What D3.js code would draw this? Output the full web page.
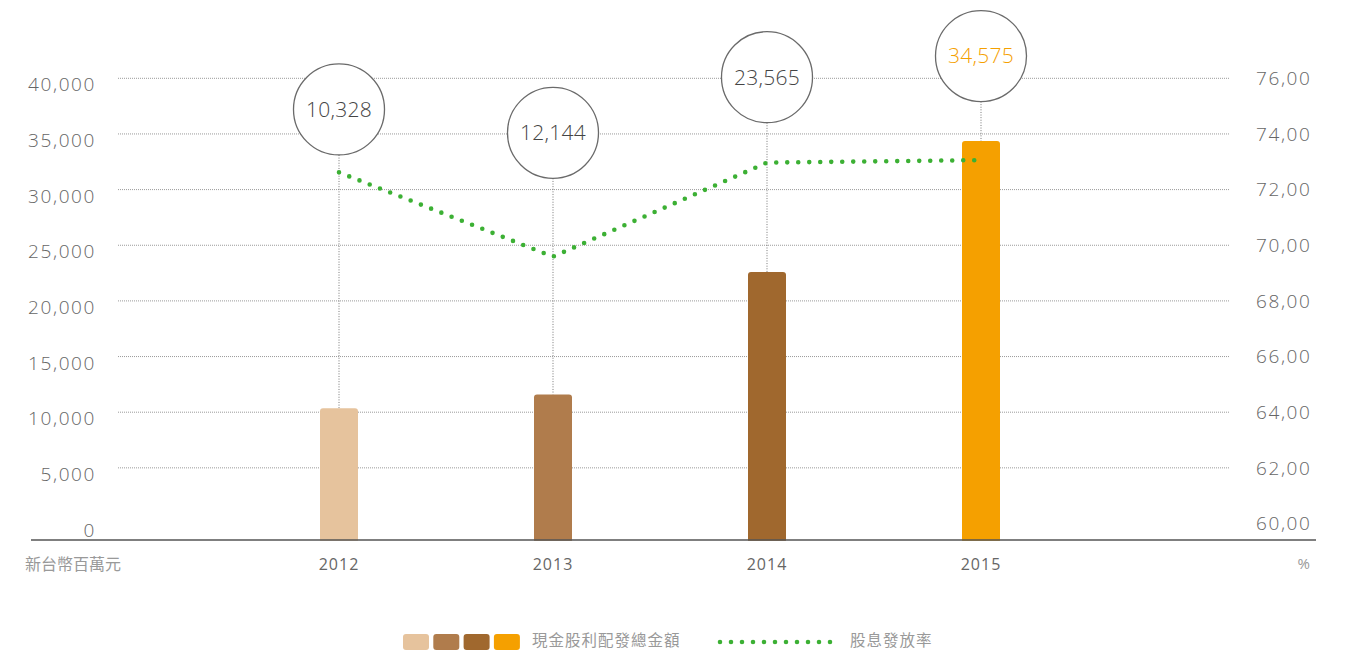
<!DOCTYPE html>
<html>
<head>
<meta charset="utf-8">
<title>現金股利配發總金額</title>
<script src="https://d3js.org/d3.v7.min.js"></script>
<style>
  body { margin: 0; background: #fff; }
  text { font-family: "Open Sans", sans-serif; }
  .cjk { font-family: "Noto Sans CJK TC", sans-serif; }
</style>
</head>
<body>

<div id="chart"></div>

<script>
  // data
  const years = ["2012", "2013", "2014", "2015"];
  const cashDividend = [10350, 11600, 22600, 34370];     // bar heights as drawn
  const dividendLabels = ["10,328", "12,144", "23,565", "34,575"];
  const payoutRatio = [72.62, 69.59, 72.97, 73.06];
  const leftTicks = [0, 5000, 10000, 15000, 20000, 25000, 30000, 35000, 40000];
  const rightTicks = [60, 62, 64, 66, 68, 70, 72, 74, 76];

  // layout
  const barColors = ["#e6c39d", "#b07c4c", "#a0682e", "#f5a000"];
  const bubbleLevel = [37200, 35100, 40100, 42000];   // bubble centres in left-axis units
  const W = 1348, H = 651;
  const baseY = 540, bubbleR = 45.5, barW = 38;

  const svg = d3.select("#chart").append("svg")
    .attr("width", W)
    .attr("height", H);

  // scales
  const x = d3.scalePoint().domain(years).range([339, 981]);
  const yL = d3.scaleLinear().domain([0, 40000]).range([523.5, 78.3]);
  const yR = d3.scaleLinear().domain([60, 76]).range([523.5, 78.3]);

  // gridlines
  svg.append("g")
    .selectAll("line")
    .data(leftTicks.filter(d => d > 0))
    .enter().append("line")
    .attr("x1", 118).attr("x2", 1229)
    .attr("y1", d => yL(d)).attr("y2", d => yL(d))
    .attr("stroke", "#9a9a9a")
    .attr("stroke-width", 1)
    .attr("stroke-dasharray", "1,1");

  // left axis labels
  svg.append("g")
    .selectAll("text")
    .data(leftTicks)
    .enter().append("text")
    .attr("x", 96)
    .attr("y", d => yL(d) + 6.5)
    .attr("dy", "0.35em")
    .attr("text-anchor", "end")
    .style("font-size", "19px")
    .style("font-weight", 300)
    .style("letter-spacing", "1.6px")
    .attr("fill", "#666")
    .text(d => d3.format(",")(d));

  // right axis labels
  svg.append("g")
    .selectAll("text")
    .data(rightTicks)
    .enter().append("text")
    .attr("x", 1256)
    .attr("y", d => yR(d))
    .attr("dy", "0.35em")
    .style("font-size", "19px")
    .style("font-weight", 300)
    .style("letter-spacing", "1.6px")
    .attr("fill", "#666")
    .text(d => d.toFixed(2).replace(".", ","));

  // dotted drop lines from bubble to bar
  svg.append("g")
    .selectAll("line")
    .data(years)
    .enter().append("line")
    .attr("x1", d => x(d)).attr("x2", d => x(d))
    .attr("y1", (d, i) => yL(bubbleLevel[i]) + bubbleR)
    .attr("y2", (d, i) => yL(cashDividend[i]))
    .attr("stroke", "#777")
    .attr("stroke-width", 1)
    .attr("stroke-dasharray", "1,1.6");

  // bars
  svg.append("g")
    .selectAll("rect")
    .data(years)
    .enter().append("rect")
    .attr("x", d => x(d) - barW / 2)
    .attr("y", (d, i) => yL(cashDividend[i]))
    .attr("width", barW)
    .attr("height", (d, i) => baseY - yL(cashDividend[i]) + 3)
    .attr("rx", 3)
    .attr("fill", (d, i) => barColors[i]);

  // cover the rounded bottoms below the baseline
  svg.append("rect")
    .attr("x", 0).attr("y", baseY + 0.8)
    .attr("width", W).attr("height", 6)
    .attr("fill", "#fff");

  // baseline
  svg.append("line")
    .attr("x1", 31).attr("x2", 1316)
    .attr("y1", baseY).attr("y2", baseY)
    .attr("stroke", "#555")
    .attr("stroke-width", 1.5);

  // payout ratio line
  const line = d3.line()
    .x((d, i) => x(years[i]))
    .y(d => yR(d));

  svg.append("path")
    .datum(payoutRatio)
    .attr("d", line)
    .attr("fill", "none")
    .attr("stroke", "#3cb034")
    .attr("stroke-width", 4.6)
    .attr("stroke-linecap", "round")
    .attr("stroke-dasharray", "0,11");

  // value bubbles
  const bubbles = svg.append("g")
    .selectAll("g")
    .data(years)
    .enter().append("g")
    .attr("transform", (d, i) => `translate(${x(d)},${yL(bubbleLevel[i])})`);

  bubbles.append("circle")
    .attr("r", bubbleR)
    .attr("fill", "#fff")
    .attr("stroke", "#6a6a6a")
    .attr("stroke-width", 1.3);

  bubbles.append("text")
    .attr("text-anchor", "middle")
    .attr("dy", "0.35em")
    .style("font-size", "21px")
    .style("font-weight", 300)
    .style("letter-spacing", "0.3px")
    .attr("fill", (d, i) => i === years.length - 1 ? "#f5a000" : "#444")
    .text((d, i) => dividendLabels[i]);

  // x labels
  svg.append("g")
    .selectAll("text")
    .data(years)
    .enter().append("text")
    .attr("x", d => x(d))
    .attr("y", 564)
    .attr("dy", "0.35em")
    .attr("text-anchor", "middle")
    .style("font-size", "16px")
    .style("letter-spacing", "1px")
    .attr("fill", "#666")
    .text(d => d);

  // unit labels
  svg.append("text")
    .attr("class", "cjk")
    .attr("x", 25).attr("y", 564)
    .attr("dy", "0.35em")
    .style("font-size", "16px")
    .attr("fill", "#999")
    .text("新台幣百萬元");

  svg.append("text")
    .attr("x", 1310).attr("y", 564)
    .attr("dy", "0.35em")
    .attr("text-anchor", "end")
    .style("font-size", "15px")
    .attr("fill", "#999")
    .text("%");

  // legend
  const legend = svg.append("g");

  legend.selectAll("rect")
    .data(barColors)
    .enter().append("rect")
    .attr("x", (d, i) => 403 + i * 30.3)
    .attr("y", 634)
    .attr("width", 26)
    .attr("height", 16)
    .attr("rx", 3)
    .attr("fill", d => d);

  legend.append("text")
    .attr("class", "cjk")
    .attr("x", 532).attr("y", 641)
    .attr("dy", "0.35em")
    .style("font-size", "15.5px")
    .style("letter-spacing", "1px")
    .attr("fill", "#999")
    .text("現金股利配發總金額");

  legend.append("line")
    .attr("x1", 720).attr("x2", 841)
    .attr("y1", 642).attr("y2", 642)
    .attr("stroke", "#3cb034")
    .attr("stroke-width", 4.6)
    .attr("stroke-linecap", "round")
    .attr("stroke-dasharray", "0,11");

  legend.append("text")
    .attr("class", "cjk")
    .attr("x", 850).attr("y", 641)
    .attr("dy", "0.35em")
    .style("font-size", "15.5px")
    .style("letter-spacing", "1px")
    .attr("fill", "#999")
    .text("股息發放率");
</script>

</body>
</html>
